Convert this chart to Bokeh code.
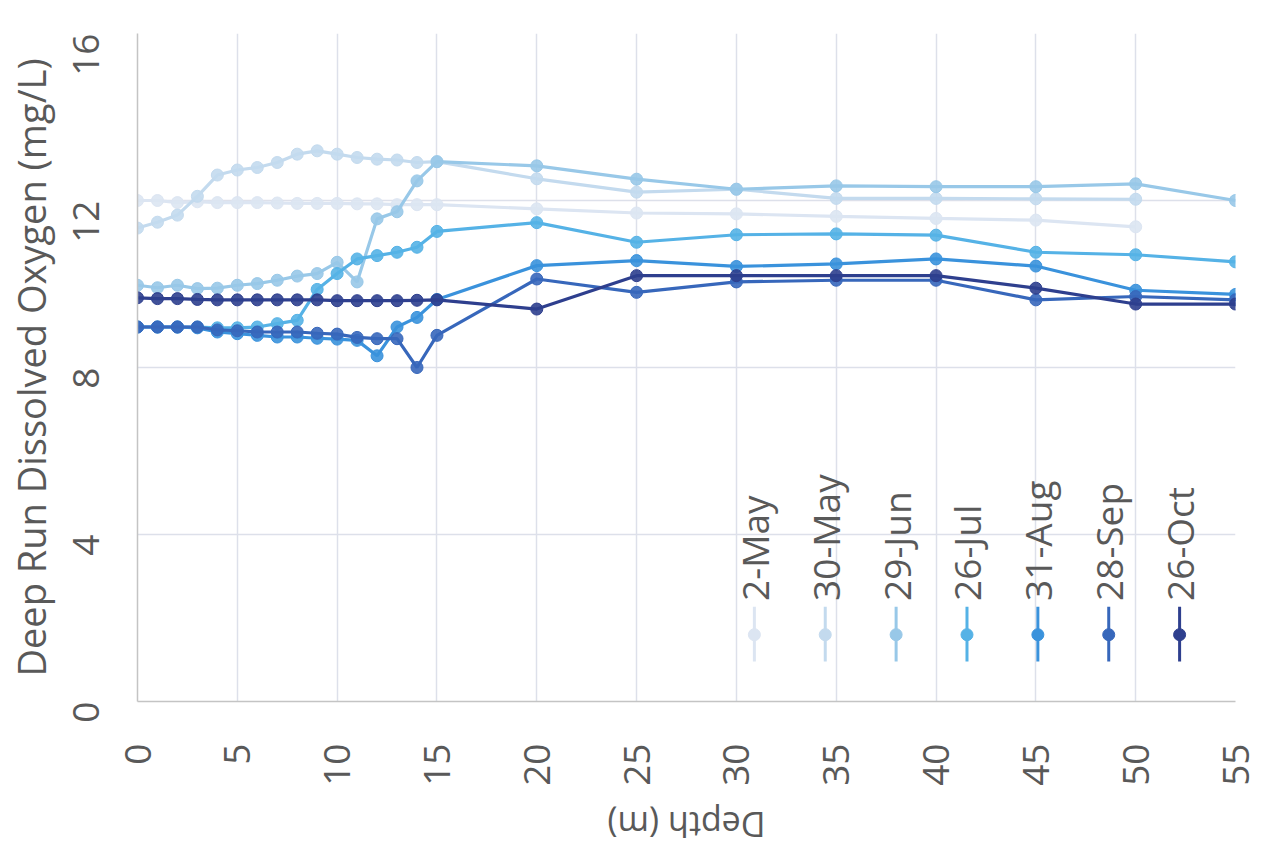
import math
from bokeh.plotting import figure
from bokeh.layouts import column
from bokeh.models import Range1d, FixedTicker
from bokeh.core.properties import value
from bokeh.embed import file_html
from bokeh.resources import INLINE

# ---------------- data ----------------
depth_to50 = [0, 1, 2, 3, 4, 5, 6, 7, 8, 9, 10, 11, 12, 13, 14, 15, 20, 25, 30, 35, 40, 45, 50]
depth_to55 = depth_to50 + [55]

may02 = [12.0, 12.0, 11.95, 11.97, 11.95, 11.95, 11.95, 11.94, 11.93, 11.93, 11.93, 11.92, 11.92,
         11.9, 11.9, 11.9, 11.8, 11.7, 11.68, 11.62, 11.57, 11.53, 11.37]
may30 = [11.34, 11.48, 11.65, 12.1, 12.61, 12.73, 12.79, 12.91, 13.11, 13.19, 13.11, 13.03, 12.99,
         12.97, 12.91, 12.93, 12.52, 12.2, 12.27, 12.05, 12.05, 12.04, 12.03]
jun29 = [9.97, 9.91, 9.97, 9.89, 9.9, 9.97, 10.01, 10.09, 10.19, 10.25, 10.52, 10.05, 11.56,
         11.73, 12.47, 12.93, 12.83, 12.51, 12.27, 12.35, 12.33, 12.33, 12.4, 12.0]
jul26 = [8.97, 8.97, 8.97, 8.97, 8.95, 8.95, 8.97, 9.05, 9.13, 9.87, 10.25, 10.6, 10.68,
         10.76, 10.88, 11.26, 11.47, 11.0, 11.18, 11.2, 11.17, 10.76, 10.7, 10.53]
aug31 = [8.97, 8.97, 8.97, 8.95, 8.85, 8.81, 8.77, 8.73, 8.73, 8.7, 8.68, 8.65, 8.28,
         8.97, 9.2, 9.63, 10.44, 10.56, 10.42, 10.48, 10.6, 10.43, 9.85, 9.75]
sep28 = [8.97, 8.97, 8.97, 8.97, 8.9, 8.88, 8.85, 8.85, 8.85, 8.82, 8.8, 8.72, 8.69,
         8.69, 8.0, 8.77, 10.12, 9.8, 10.05, 10.09, 10.09, 9.62, 9.7, 9.62]
oct26 = [9.67, 9.65, 9.65, 9.63, 9.62, 9.62, 9.62, 9.62, 9.62, 9.62, 9.6, 9.6, 9.6,
         9.6, 9.61, 9.62, 9.4, 10.2, 10.2, 10.2, 10.2, 9.9, 9.52, 9.52]

series_names = ["2-May", "30-May", "29-Jun", "26-Jul", "31-Aug", "28-Sep", "26-Oct"]
series_values = [may02, may30, jun29, jul26, aug31, sep28, oct26]
series_depths = [depth_to50, depth_to50, depth_to55, depth_to55, depth_to55, depth_to55, depth_to55]
series_colors = ["#dce5f2", "#c3daee", "#98c8e8", "#55b2e6", "#3a92dc", "#3767bb", "#2e3f8e"]

x_ticks = [0, 5, 10, 15, 20, 25, 30, 35, 40, 45, 50, 55]
y_ticks = [0, 4, 8, 12, 16]
x_title = "Depth (m)"
y_title = "Deep Run Dissolved Oxygen (mg/L)"

FONT = "Open Sans"
TXT = "#595959"
FS = "37px"

W = 1266
MAIN_H = 797
TITLE_H = 49

p = figure(width=W, height=MAIN_H, output_backend="svg", toolbar_location=None,
           x_range=Range1d(0, 55), y_range=Range1d(0, 16),
           min_border_left=137, min_border_right=31, min_border_top=33, min_border_bottom=96)
p.outline_line_color = None
p.background_fill_color = "white"
p.border_fill_color = "white"

p.xaxis.ticker = FixedTicker(ticks=x_ticks)
p.yaxis.ticker = FixedTicker(ticks=y_ticks)
for ax in (p.xaxis, p.yaxis):
    ax.major_tick_line_color = None
    ax.minor_tick_line_color = None
    ax.axis_line_color = "#c4c4c4"
    ax.axis_line_width = 1.5
    ax.major_label_text_font = FONT
    ax.major_label_text_font_size = FS
    ax.major_label_text_color = TXT
    ax.axis_label_text_font = FONT
    ax.axis_label_text_font_size = FS
    ax.axis_label_text_color = TXT
    ax.axis_label_text_font_style = "normal"

p.xaxis.major_label_orientation = math.pi / 2
p.yaxis.major_label_orientation = math.pi / 2
p.xaxis.major_label_standoff = 36
p.yaxis.major_label_standoff = 46
p.yaxis.axis_label = y_title
p.yaxis.axis_label_text_font_size = "38px"
p.yaxis.axis_label_standoff = 0

p.xgrid.grid_line_color = "#dde0ea"
p.ygrid.grid_line_color = "#dde0ea"
p.xgrid.grid_line_width = 1.5
p.ygrid.grid_line_width = 1.5

for name, xs, ys, c in zip(series_names, series_depths, series_values, series_colors):
    p.line(xs, ys, line_color=c, line_width=3.2)
    p.scatter(xs, ys, size=12, fill_color=c, line_color=c, fill_alpha=0.9)

# rotated legend (entries laid out left to right, text reading upward)
leg_x0, leg_dx = 30.9, 3.55
leg_x = [leg_x0 + i * leg_dx for i in range(len(series_names))]
p.segment(x0=leg_x, y0=[0.96] * 7, x1=leg_x, y1=[2.27] * 7, line_color=series_colors, line_width=3)
p.scatter(leg_x, [1.6] * 7, size=12, fill_color=series_colors, line_color=series_colors)
p.text(x=leg_x, y=[2.41] * 7, text=series_names, angle=math.pi / 2,
       text_align="left", text_baseline="middle",
       text_font=value(FONT), text_font_size=value(FS), text_color=TXT)

# strip below the chart holding the upside-down x-axis title (as in the source image)
t = figure(width=W, height=TITLE_H, output_backend="svg", toolbar_location=None,
           x_range=Range1d(0, W), y_range=Range1d(0, TITLE_H),
           min_border=0, x_axis_type=None, y_axis_type=None)
t.outline_line_color = None
t.grid.visible = False
t.background_fill_color = "white"
t.border_fill_color = "white"
t.text(x=[633], y=[22], text=[x_title], angle=math.pi,
       text_align="center", text_baseline="middle",
       text_font=value(FONT), text_font_size=value("34px"), text_color=TXT)

layout = column(p, t, spacing=0)
open("out.html", "w").write(file_html(layout, INLINE))
